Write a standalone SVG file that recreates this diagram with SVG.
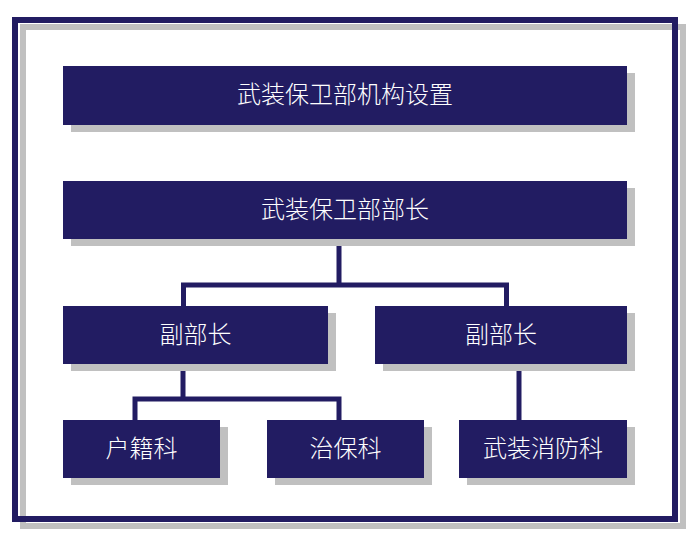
<svg xmlns="http://www.w3.org/2000/svg" width="697" height="542" viewBox="0 0 697 542">
<defs>
<style>
.box{fill:#221c62}
.sh{fill:#c0c0c0}
.t{fill:#ffffff;font-family:"Noto Sans CJK SC","Noto Sans",sans-serif;font-size:24px;font-weight:300;text-anchor:middle;dominant-baseline:central}
.c{fill:none;stroke:#221c62;stroke-width:5;stroke-linejoin:miter}
</style>
</defs>
<rect width="697" height="542" fill="#ffffff"/>
<g id="frame">
<rect x="23" y="27" width="660" height="499" fill="none" stroke="#c0c0c0" stroke-width="6"/>
<rect x="15" y="20" width="660" height="499" fill="none" stroke="#221c62" stroke-width="6"/>
</g>
<g id="title">
<rect class="sh" x="71" y="73" width="564" height="59"/>
<rect class="box" x="63" y="66" width="564" height="59"/>
<text class="t" x="345" y="92">武装保卫部机构设置</text>
</g>
<g id="connectors">
<path class="c" d="M183.5 306 V285 H506.5 V306 M339 243 V285"/>
<path class="c" d="M135 420 V399 H339 V420 M183 368 V399"/>
<path class="c" d="M519 368 V420"/>
</g>
<g id="chief">
<rect class="sh" x="71" y="188" width="564" height="58"/>
<rect class="box" x="63" y="181" width="564" height="58"/>
<text class="t" x="345" y="207">武装保卫部部长</text>
</g>
<g id="deputy1">
<rect class="sh" x="71" y="313" width="265" height="58"/>
<rect class="box" x="63" y="306" width="265" height="58"/>
<text class="t" x="195.5" y="332">副部长</text>
</g>
<g id="deputy2">
<rect class="sh" x="383" y="313" width="252" height="58"/>
<rect class="box" x="375" y="306" width="252" height="58"/>
<text class="t" x="501" y="332">副部长</text>
</g>
<g id="huji">
<rect class="sh" x="71" y="427" width="157" height="58"/>
<rect class="box" x="63" y="420" width="157" height="58"/>
<text class="t" x="141.5" y="446">户籍科</text>
</g>
<g id="zhibao">
<rect class="sh" x="275" y="427" width="157" height="58"/>
<rect class="box" x="267" y="420" width="157" height="58"/>
<text class="t" x="345.5" y="446">治保科</text>
</g>
<g id="xiaofang">
<rect class="sh" x="467" y="427" width="168" height="58"/>
<rect class="box" x="459" y="420" width="168" height="58"/>
<text class="t" x="543" y="446">武装消防科</text>
</g>
</svg>
